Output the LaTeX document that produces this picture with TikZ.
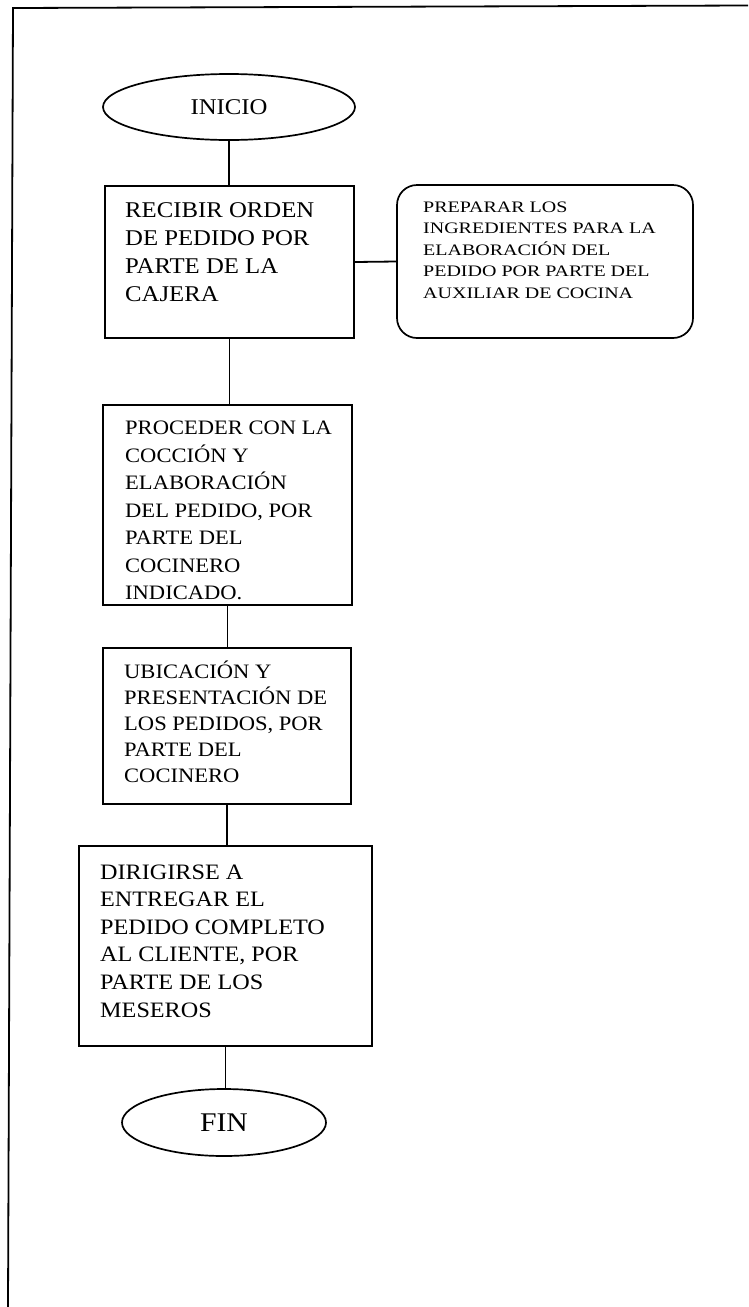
\documentclass[tikz,border=0pt]{standalone}
\usepackage{fontspec}
\setmainfont{Liberation Serif}[FakeStretch=1.1]
\newfontfamily\wideserif{Liberation Serif}[FakeStretch=1.25]
\usetikzlibrary{shapes.geometric}
\begin{document}
\begin{tikzpicture}[x=1pt,y=-1pt,
  frameline/.style={line width=1.8pt},
  procbox/.style={draw, rectangle, line width=1.7pt, inner sep=0pt},
  prepbox/.style={draw, rectangle, rounded corners=20pt, line width=1.7pt, inner sep=0pt},
  termnode/.style={draw, ellipse, line width=1.7pt, inner sep=0pt},
  boxtext/.style={inner sep=0pt, align=left, anchor=west},
  link/.style={line width=1.8pt}]
\useasboundingbox (0,0) rectangle (748,1307);
\fill[white] (0,0) rectangle (748,1307);
% outer frame
\coordinate (fa) at (13,8);
\coordinate (fb) at (748,5.5);
\coordinate (fc) at (8,1307);
\draw[frameline] (fb) -- (fa) -- (fc);
% terminals
\node[termnode, minimum width=252pt, minimum height=66pt, font=\fontsize{22.5}{27}\selectfont] (ini) at (229,107) {INICIO};
\node[termnode, minimum width=204pt, minimum height=67pt, font=\fontsize{27}{30}\selectfont] (fin) at (224,1122.5) {FIN};
% process boxes
\node[procbox, minimum width=249pt, minimum height=152pt] (b1) at (229.5,262) {};
\node[procbox, minimum width=249pt, minimum height=200pt] (b2) at (227.5,505) {};
\node[procbox, minimum width=248pt, minimum height=156pt] (b3) at (227,726) {};
\node[procbox, minimum width=293pt, minimum height=200pt] (b4) at (225.5,946) {};
\node[prepbox, minimum width=296pt, minimum height=153pt] (pb) at (545,261.5) {};
% texts
\node[boxtext, font=\fontsize{22.5}{28}\selectfont] (t1) at (125,252)
  {RECIBIR ORDEN\\DE PEDIDO POR\\PARTE DE LA\\CAJERA};
\node[boxtext, font=\wideserif\fontsize{16}{21.5}\selectfont] (tp) at (423,250)
  {PREPARAR LOS\\INGREDIENTES PARA LA\\ELABORACIÓN DEL\\PEDIDO POR PARTE DEL\\AUXILIAR DE COCINA};
\node[boxtext, font=\fontsize{20.5}{27.5}\selectfont] (t2) at (125,510.5)
  {PROCEDER CON LA\\COCCIÓN Y\\ELABORACIÓN\\DEL PEDIDO, POR\\PARTE DEL\\COCINERO\\INDICADO.};
\node[boxtext, font=\fontsize{20.5}{26}\selectfont] (t3) at (124,721.5)
  {UBICACIÓN Y\\PRESENTACIÓN DE\\LOS PEDIDOS, POR\\PARTE DEL\\COCINERO};
\node[boxtext, font=\fontsize{22}{27.6}\selectfont] (t4) at (100,941)
  {DIRIGIRSE A\\ENTREGAR EL\\PEDIDO COMPLETO\\AL CLIENTE, POR\\PARTE DE LOS\\MESEROS};
% connectors
\draw[link] (ini.south) -- (ini.south |- b1.north);
\draw[link] (b1.east) -- (pb.west);
\draw[link] (b1.south) -- (b1.south |- b2.north);
\draw[link] (b2.south) -- (b2.south |- b3.north);
\draw[link] (b3.south) -- (b3.south |- b4.north);
\draw[link] (b4.south) -- (b4.south |- fin.north);
\end{tikzpicture}
\end{document}
